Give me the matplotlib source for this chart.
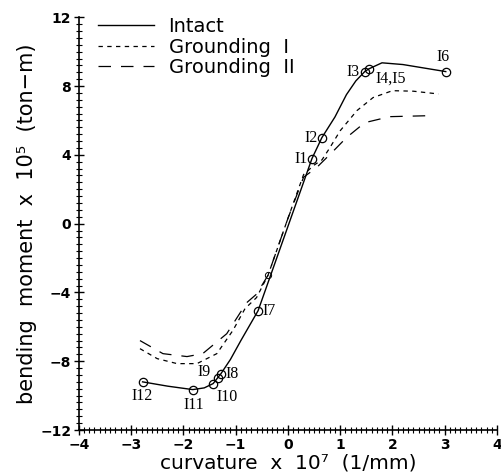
import matplotlib
matplotlib.use("Agg")
import matplotlib.pyplot as plt
from matplotlib.ticker import MultipleLocator

# ---- data ----
intact_x = [-2.78, -2.3, -1.82, -1.6, -1.43, -1.34, -1.28, -1.1, -0.9, -0.57, 0.46, 0.65, 0.9, 1.12, 1.3, 1.47, 1.55, 1.8, 2.2, 3.02]
intact_y = [-9.2, -9.45, -9.65, -9.55, -9.3, -8.95, -8.72, -7.9, -6.8, -5.06, 3.78, 5.0, 6.2, 7.5, 8.3, 8.84, 9.0, 9.35, 9.25, 8.84]

g1_x = [-2.83, -2.5, -2.12, -1.74, -1.36, -1.05, -0.82, -0.6, -0.38, 0.0, 0.3, 0.5, 0.65, 0.8, 1.0, 1.32, 1.63, 2.0, 2.4, 2.88]
g1_y = [-7.27, -7.85, -8.14, -8.14, -7.56, -6.2, -4.94, -4.3, -3.0, 0.3, 2.85, 3.4, 3.7, 4.4, 5.4, 6.57, 7.33, 7.73, 7.7, 7.54]

g2_x = [-2.83, -2.39, -1.93, -1.63, -1.17, -0.79, -0.6, -0.38, 0.0, 0.3, 0.55, 0.84, 1.12, 1.47, 1.95, 2.75]
g2_y = [-6.8, -7.56, -7.73, -7.56, -6.4, -4.6, -4.1, -3.0, 0.3, 2.7, 3.26, 4.13, 5.0, 5.87, 6.22, 6.28]

pt_names = ["I1", "I2", "I3", "I4,I5", "I6", "I7", "I8", "I9", "I10", "I11", "I12"]
pt_x = [0.46, 0.65, 1.47, 1.55, 3.02, -0.57, -1.28, -1.34, -1.43, -1.82, -2.78]
pt_y = [3.78, 5.0, 8.84, 9.0, 8.84, -5.06, -8.72, -8.95, -9.3, -9.65, -9.2]
lab_dx = [-0.08, -0.08, -0.1, 0.12, -0.05, 0.09, 0.08, -0.14, 0.07, 0.02, 0.0]
lab_dy = [0.0, 0.0, 0.0, -0.55, 0.85, 0.0, 0.0, 0.3, -0.8, -0.9, -0.85]
lab_ha = ["right", "right", "right", "left", "center", "left", "left", "right", "left", "center", "center"]

# unlabeled small circle on the intact line
aux_x = [-0.38]
aux_y = [-3.0]

xticks = [-4, -3, -2, -1, 0, 1, 2, 3, 4]
yticks = [-12, -8, -4, 0, 4, 8, 12]

fig = plt.figure(figsize=(5.02, 4.75), dpi=100)
ax = fig.add_axes([0.157, 0.0947, 0.833, 0.869])

ax.plot(intact_x, intact_y, color="black", lw=1.0, label="Intact")
ax.plot(g1_x, g1_y, color="black", lw=0.9, dashes=(3.5, 3.5), label="Grounding  I")
ax.plot(g2_x, g2_y, color="black", lw=0.9, dashes=(10, 8), label="Grounding  II")
ax.plot(pt_x, pt_y, linestyle="none", marker="o", markersize=6,
        markerfacecolor="none", markeredgecolor="black", markeredgewidth=0.9)
ax.plot(aux_x, aux_y, linestyle="none", marker="o", markersize=4.5,
        markerfacecolor="none", markeredgecolor="black", markeredgewidth=0.7)

for n, x, y, dx, dy, ha in zip(pt_names, pt_x, pt_y, lab_dx, lab_dy, lab_ha):
    ax.text(x + dx, y + dy, n, ha=ha, va="center", fontsize=11.5,
            family="Liberation Serif")

ax.set_xlim(-4, 4)
ax.set_ylim(-12, 12)
ax.set_xticks(xticks)
ax.set_yticks(yticks)
ax.set_xticklabels([f"{t}".replace("-", "\u2212") for t in xticks], fontsize=10, fontweight="bold")
ax.set_yticklabels([f"{t}".replace("-", "\u2212") for t in yticks], fontsize=10, fontweight="bold")
ax.xaxis.set_minor_locator(MultipleLocator(0.1))
ax.yaxis.set_minor_locator(MultipleLocator(0.4))
ax.tick_params(which="major", direction="inout", length=7, width=1.0, pad=2)
ax.tick_params(which="minor", direction="inout", length=4, width=0.8)

for s in ["top", "right"]:
    ax.spines[s].set_visible(False)
for s in ["left", "bottom"]:
    ax.spines[s].set_linewidth(1.2)

ax.set_xlabel("curvature  x  10\u2077  (1/mm)", fontsize=14.5, labelpad=1)
ax.set_ylabel("bending  moment  x  10\u2075  (ton\u2212m)", fontsize=15, labelpad=2)

leg = ax.legend(loc="upper left", bbox_to_anchor=(0.045, 1.0), frameon=False,
                fontsize=14, handlelength=2.9, handletextpad=0.75, labelspacing=0.07,
                borderaxespad=0, borderpad=0)

fig.savefig("out.png", dpi=100)
